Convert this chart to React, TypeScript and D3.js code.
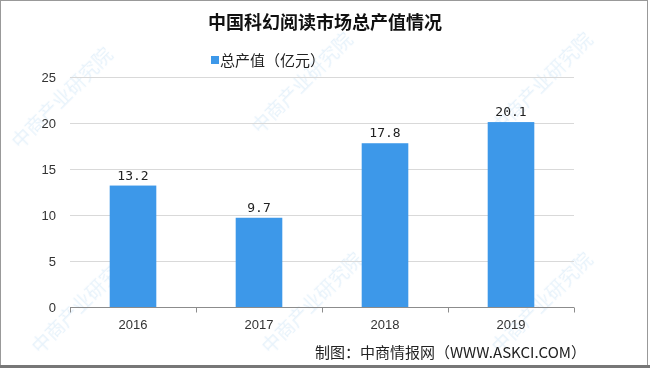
import React, { useEffect, useRef } from "react";
import * as d3 from "d3";

const years = ["2016", "2017", "2018", "2019"];
const output = [13.2, 9.7, 17.8, 20.1];
const yTicks = [0, 5, 10, 15, 20, 25];

const title = "中国科幻阅读市场总产值情况";
const legendLabel = "总产值（亿元）";
const source = "制图：中商情报网（WWW.ASKCI.COM）";
const watermark = "中商产业研究院";

export default function App() {
  const svgRef = useRef<SVGSVGElement | null>(null);

  useEffect(() => {
    if (!svgRef.current) return;
    const width = 650;
    const height = 368;
    const margin = { top: 77, right: 76, bottom: 62, left: 70 };

    const svg = d3.select(svgRef.current);
    svg.selectAll("*").remove();
    svg.attr("width", width).attr("height", height).attr("viewBox", `0 0 ${width} ${height}`);

    svg.append("rect").attr("width", width).attr("height", height).attr("fill", "#fff");

    // faint watermark, kept inside the frame
    const wm = svg.append("g").attr("opacity", 0.13);
    const spots = [
      [20, 150], [260, 135], [500, 135], [40, 355], [270, 355], [500, 355],
    ];
    spots.forEach(([x, y]) => {
      wm.append("text")
        .attr("transform", `translate(${x},${y}) rotate(-45)`)
        .attr("font-family", "Noto Sans CJK SC")
        .attr("font-size", 19)
        .attr("fill", "#4a9fe0")
        .text(watermark);
    });

    const x = d3
      .scaleBand()
      .domain(years)
      .range([margin.left, width - margin.right])
      .paddingInner(0.63)
      .paddingOuter(0.315);

    const y = d3
      .scaleLinear()
      .domain([0, 25])
      .range([height - margin.bottom + 1, margin.top]);

    // grid
    svg
      .append("g")
      .selectAll("line")
      .data(yTicks.filter((d) => d > 0))
      .join("line")
      .attr("x1", margin.left)
      .attr("x2", width - margin.right)
      .attr("y1", (d) => Math.round(y(d)) + 0.5)
      .attr("y2", (d) => Math.round(y(d)) + 0.5)
      .attr("stroke", "#d9d9d9");

    svg
      .append("g")
      .selectAll("text")
      .data(yTicks)
      .join("text")
      .attr("x", 56)
      .attr("y", (d) => y(d) + 4.5)
      .attr("text-anchor", "end")
      .attr("font-family", "Liberation Sans")
      .attr("font-size", 13)
      .attr("fill", "#333")
      .text((d) => d);

    svg
      .append("g")
      .selectAll("rect")
      .data(output)
      .join("rect")
      .attr("x", (_, i) => x(years[i])!)
      .attr("width", x.bandwidth())
      .attr("y", (d) => y(d))
      .attr("height", (d) => y(0) - y(d))
      .attr("fill", "#3d98e9");

    svg
      .append("g")
      .selectAll("text")
      .data(output)
      .join("text")
      .attr("x", (_, i) => x(years[i])! + x.bandwidth() / 2)
      .attr("y", (d) => y(d) - 6)
      .attr("text-anchor", "middle")
      .attr("font-family", "DejaVu Sans Mono")
      .attr("font-size", 13)
      .attr("fill", "#222")
      .text((d) => d.toFixed(1));

    // x axis
    const axisY = Math.round(y(0)) + 0.5;
    const ax = svg.append("g").attr("stroke", "#8c8c8c");
    ax.append("line")
      .attr("x1", margin.left)
      .attr("x2", width - margin.right)
      .attr("y1", axisY)
      .attr("y2", axisY);
    const step = x.step();
    const edges = d3.range(years.length + 1).map((i) => margin.left + i * step);
    ax.selectAll("line.tick")
      .data(edges)
      .join("line")
      .attr("class", "tick")
      .attr("x1", (d) => Math.round(d) + 0.5)
      .attr("x2", (d) => Math.round(d) + 0.5)
      .attr("y1", axisY)
      .attr("y2", axisY + 5);

    svg
      .append("g")
      .selectAll("text")
      .data(years)
      .join("text")
      .attr("x", (d) => x(d)! + x.bandwidth() / 2)
      .attr("y", axisY + 21)
      .attr("text-anchor", "middle")
      .attr("font-family", "Liberation Sans")
      .attr("font-size", 13)
      .attr("fill", "#333")
      .text((d) => d);

    // title
    svg
      .append("text")
      .attr("x", 325)
      .attr("y", 29)
      .attr("text-anchor", "middle")
      .attr("font-family", "Noto Sans CJK SC")
      .attr("font-weight", "bold")
      .attr("font-size", 18)
      .attr("fill", "#111")
      .text(title);

    // legend
    svg
      .append("rect")
      .attr("x", 211)
      .attr("y", 56)
      .attr("width", 8)
      .attr("height", 8)
      .attr("fill", "#3d98e9");
    svg
      .append("text")
      .attr("x", 220)
      .attr("y", 66)
      .attr("font-family", "Noto Sans CJK SC")
      .attr("font-size", 15)
      .attr("fill", "#222")
      .text(legendLabel);

    // source
    svg
      .append("text")
      .attr("x", 586)
      .attr("y", 358)
      .attr("text-anchor", "end")
      .attr("font-family", "Noto Sans CJK SC")
      .attr("font-size", 15)
      .attr("fill", "#222")
      .text(source);

    // frame
    svg
      .append("rect")
      .attr("x", 0.5)
      .attr("y", 0.5)
      .attr("width", width - 3)
      .attr("height", height - 3)
      .attr("fill", "none")
      .attr("stroke", "#999")
      .attr("stroke-width", 1);
    svg
      .append("line")
      .attr("x1", 0)
      .attr("x2", width)
      .attr("y1", height - 1.5)
      .attr("y2", height - 1.5)
      .attr("stroke", "#777")
      .attr("stroke-width", 3);
  }, []);

  return (
    <div style={{ position: "absolute", left: 0, top: 0 }}>
      <svg ref={svgRef} style={{ display: "block" }} />
    </div>
  );
}
